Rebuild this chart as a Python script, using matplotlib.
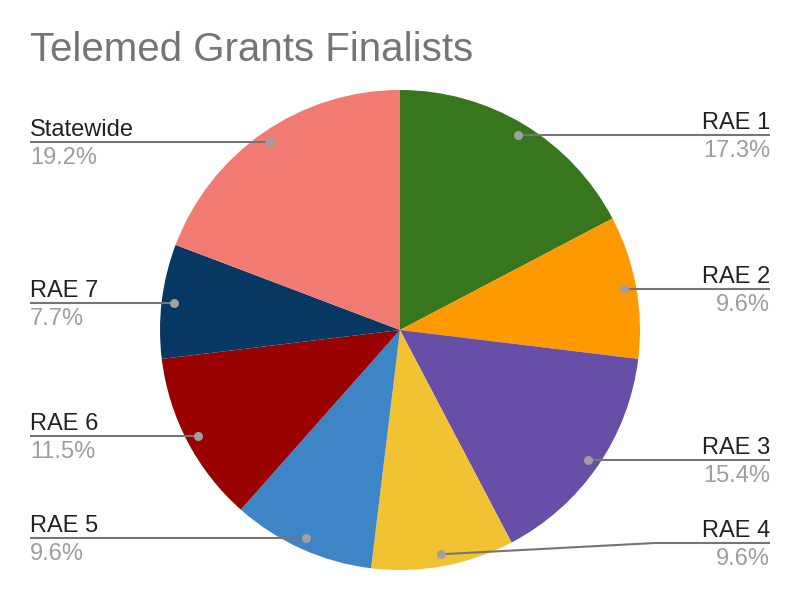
import matplotlib
matplotlib.use("Agg")
import matplotlib.pyplot as plt
import numpy as np

title = "Telemed Grants Finalists"
categories = ["RAE 1", "RAE 2", "RAE 3", "RAE 4", "RAE 5", "RAE 6", "RAE 7", "Statewide"]
counts = [9, 5, 8, 5, 5, 6, 4, 10]
colors = ["#38761d", "#ff9900", "#674ea7", "#f1c232", "#3d85c6", "#990000", "#073763", "#f17b72"]

W, H = 799, 600
plt.rcParams['font.family'] = ['Liberation Sans', 'DejaVu Sans']
fig = plt.figure(figsize=(W / 100, H / 100), dpi=100)
ax = fig.add_axes([0, 0, 1, 1])
ax.set_xlim(0, W)
ax.set_ylim(0, H)
ax.set_aspect('equal')
ax.axis('off')

cx, cy_px, R = 400, 330, 240
cy = H - cy_px
wedges, _ = ax.pie(counts, colors=colors, startangle=90, counterclock=False,
                   center=(cx, cy), radius=R, frame=True,
                   wedgeprops=dict(linewidth=0))
ax.set_xlim(0, W)
ax.set_ylim(0, H)
ax.axis('off')

total = sum(counts)
left_x, right_x = 30, 770
min_line_y = H - 543  # keep label lines above chart bottom margin
for w, name, c in zip(wedges, categories, counts):
    ang = np.deg2rad((w.theta1 + w.theta2) / 2)
    dx = 0.95 * R * np.cos(ang)
    dy = 0.95 * R * np.sin(ang)
    px, py = cx + dx, cy + dy
    ly = max(py, min_line_y)
    pct = f"{100 * c / total:.1f}%"
    if dx >= 0:
        ex, ha = right_x, 'right'
        if ly != py:
            kx = right_x - 115
            ax.plot([px, kx, ex], [py, ly, ly], color='#757575', lw=1.5, zorder=3,
                    solid_capstyle='butt')
        else:
            ax.plot([px, ex], [py, ly], color='#757575', lw=1.5, zorder=3,
                    solid_capstyle='butt')
    else:
        ex, ha = left_x, 'left'
        ax.plot([px, ex], [py, ly], color='#757575', lw=1.5, zorder=3,
                solid_capstyle='butt')
    ax.plot([px], [py], marker='o', ms=6.5, color='#a0a0a0', mec='none', zorder=4)
    ax.text(ex, ly + 6, name, ha=ha, va='baseline', fontsize=17, color='#222222')
    ax.text(ex, ly - 22, pct, ha=ha, va='baseline', fontsize=17, color='#9e9e9e')

fig.text(30 / W, 1 - 61 / H, title, ha='left', va='baseline', fontsize=29, color='#757575')

fig.savefig("out.png", dpi=100, facecolor='white')
